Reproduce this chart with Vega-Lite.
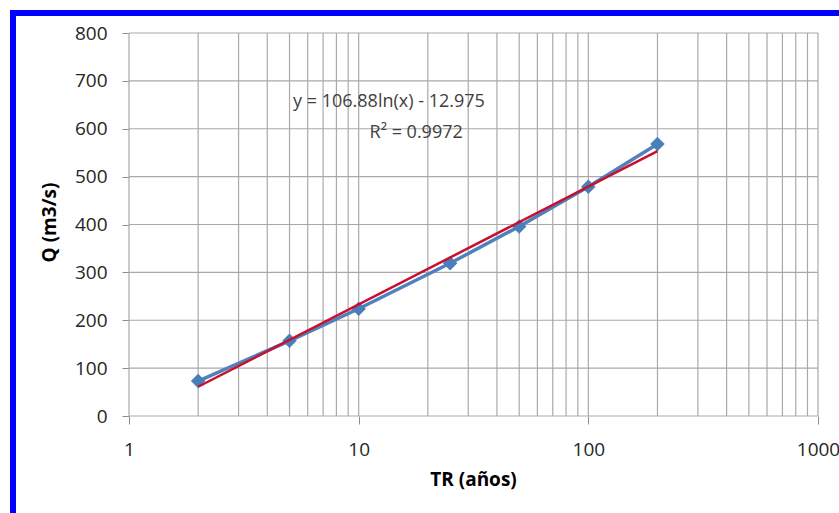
{
  "$schema": "https://vega.github.io/schema/vega-lite/v6.json",
  "width": 826,
  "height": 500,
  "autosize": {"type": "none"},
  "padding": {"left": 13, "top": 13, "right": 0, "bottom": 0},
  "background": "white",
  "config": {
    "view": {"stroke": "#0000FF", "strokeWidth": 6, "strokeDash": [826, 1326, 500, 0], "strokeCap": "square"},
    "font": "Open Sans"
  },
  "datasets": {
    "series": [
      {"TR": 2, "Q": 73},
      {"TR": 5, "Q": 157},
      {"TR": 10, "Q": 224},
      {"TR": 25, "Q": 319},
      {"TR": 50, "Q": 396},
      {"TR": 100, "Q": 479},
      {"TR": 200, "Q": 568}
    ],
    "trend": [
      {"TR": 2, "Q": 61.1},
      {"TR": 200, "Q": 553.3}
    ],
    "vgrid": [
      {"TR": 1}, {"TR": 2}, {"TR": 3}, {"TR": 4}, {"TR": 5}, {"TR": 6}, {"TR": 7}, {"TR": 8}, {"TR": 9},
      {"TR": 10}, {"TR": 20}, {"TR": 30}, {"TR": 40}, {"TR": 50}, {"TR": 60}, {"TR": 70}, {"TR": 80}, {"TR": 90},
      {"TR": 100}, {"TR": 200}, {"TR": 300}, {"TR": 400}, {"TR": 500}, {"TR": 600}, {"TR": 700}, {"TR": 800}, {"TR": 900},
      {"TR": 1000}
    ],
    "hgrid": [
      {"Q": 0}, {"Q": 100}, {"Q": 200}, {"Q": 300}, {"Q": 400}, {"Q": 500}, {"Q": 600}, {"Q": 700}, {"Q": 800}
    ],
    "notes": [
      {"TR": 13.55, "Q": 656, "label": "y = 106.88ln(x) - 12.975"},
      {"TR": 17.8, "Q": 591, "label": "R² = 0.9972"}
    ]
  },
  "layer": [
    {
      "data": {"name": "vgrid"},
      "mark": {"type": "rule", "color": "#a9a9a9", "strokeWidth": 1.2},
      "encoding": {
        "x": {"field": "TR", "type": "quantitative", "title": "TR (años)", "scale": {"type": "log", "domain": [0.31254, 1234.4], "nice": false}},
        "y": {"datum": 0, "type": "quantitative", "title": "Q (m3/s)", "scale": {"domain": [-202.6, 841.8], "nice": false, "zero": false}},
        "y2": {"datum": 800}
      }
    },
    {
      "data": {"name": "hgrid"},
      "mark": {"type": "rule", "color": "#a9a9a9", "strokeWidth": 1.2},
      "encoding": {
        "y": {"field": "Q", "type": "quantitative", "title": "Q (m3/s)", "scale": {"domain": [-202.6, 841.8], "nice": false, "zero": false}},
        "x": {"datum": 1, "type": "quantitative", "title": "TR (años)", "scale": {"type": "log", "domain": [0.31254, 1234.4], "nice": false}},
        "x2": {"datum": 1000}
      }
    },
    {
      "data": {"name": "series"},
      "mark": {"type": "line", "color": "#4F81BD", "strokeWidth": 3.5},
      "encoding": {
        "x": {
          "field": "TR", "type": "quantitative", "title": "TR (años)",
          "scale": {"type": "log", "domain": [0.31254, 1234.4], "nice": false},
          "axis": {
            "values": [1, 10, 100, 1000], "format": "d", "orient": "bottom", "offset": -97,
            "grid": false, "domain": false, "ticks": true, "tickSize": 8, "tickColor": "#8c8c8c",
            "labelPadding": 16, "labelFontSize": 19, "labelColor": "#262626", "labelFlush": false, "labelOverlap": false,
            "titleFontSize": 19, "titleFontWeight": "bold", "titleColor": "#000000",
            "titleX": 460, "titleY": 63, "titleBaseline": "middle", "titleAlign": "center"
          }
        },
        "y": {
          "field": "Q", "type": "quantitative", "title": "Q (m3/s)",
          "scale": {"domain": [-202.6, 841.8], "nice": false, "zero": false},
          "axis": {
            "values": [0, 100, 200, 300, 400, 500, 600, 700, 800], "orient": "left", "offset": -116,
            "grid": false, "domain": false, "ticks": true, "tickSize": 7, "tickColor": "#8c8c8c",
            "labelPadding": 15, "labelFontSize": 19, "labelColor": "#262626", "labelOverlap": false,
            "titleFontSize": 19, "titleFontWeight": "bold", "titleColor": "#000000",
            "titleX": -80, "titleY": 209, "titleBaseline": "middle", "titleAlign": "center", "titleAngle": -90
          }
        }
      }
    },
    {
      "data": {"name": "series"},
      "mark": {"type": "point", "shape": "diamond", "filled": true, "size": 210, "color": "#4A7EBB", "opacity": 1},
      "encoding": {
        "x": {"field": "TR", "type": "quantitative", "title": "TR (años)", "scale": {"type": "log", "domain": [0.31254, 1234.4], "nice": false}},
        "y": {"field": "Q", "type": "quantitative", "title": "Q (m3/s)", "scale": {"domain": [-202.6, 841.8], "nice": false, "zero": false}}
      }
    },
    {
      "data": {"name": "trend"},
      "mark": {"type": "line", "color": "#C8102E", "strokeWidth": 2.5},
      "encoding": {
        "x": {"field": "TR", "type": "quantitative", "title": "TR (años)", "scale": {"type": "log", "domain": [0.31254, 1234.4], "nice": false}},
        "y": {"field": "Q", "type": "quantitative", "title": "Q (m3/s)", "scale": {"domain": [-202.6, 841.8], "nice": false, "zero": false}}
      }
    },
    {
      "data": {"name": "notes"},
      "mark": {"type": "text", "align": "center", "baseline": "middle", "fontSize": 18, "color": "#404040", "font": "Open Sans"},
      "encoding": {
        "x": {"field": "TR", "type": "quantitative", "title": "TR (años)", "scale": {"type": "log", "domain": [0.31254, 1234.4], "nice": false}},
        "y": {"field": "Q", "type": "quantitative", "title": "Q (m3/s)", "scale": {"domain": [-202.6, 841.8], "nice": false, "zero": false}},
        "text": {"field": "label", "type": "nominal"}
      }
    }
  ]
}
